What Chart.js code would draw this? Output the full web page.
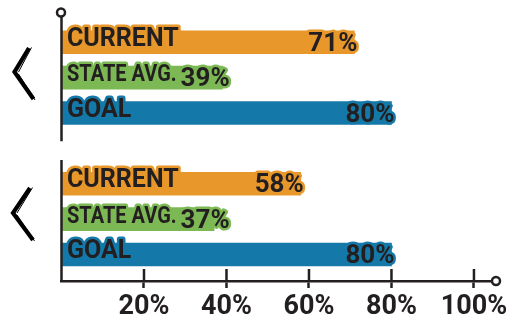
<!DOCTYPE html>
<html><head><meta charset="utf-8">
<script src="https://cdn.jsdelivr.net/npm/chart.js@4"></script>
<style>html,body{margin:0;padding:0;background:#fff;}#wrap{width:512px;height:319px;}</style>
</head><body><div id="wrap"><canvas id="c" width="512" height="319"></canvas></div>
<script>
// ---- data ----
const groups = ['Group 1', 'Group 2'];
const measures = ['CURRENT', 'STATE AVG.', 'GOAL'];
const currentValues = [71, 58];
const stateAvgValues = [39, 37];
const goalValues = [80, 80];
const tickValues = [20, 40, 60, 80, 100];

// ---- styles ----
const DARK = '#231f20';
const barColors = ['#E8972A', '#7CB955', '#1479A8'];
const labelFonts = [
  {size: 25, squeeze: 1.0},
  {size: 23, squeeze: 0.87},
  {size: 25, squeeze: 1.0}
];

const seriesValues = [currentValues, stateAvgValues, goalValues];
const points = [];
groups.forEach((g, gi) => {
  measures.forEach((m, mi) => {
    points.push({x: seriesValues[mi][gi], y: gi * (measures.length + 1) + mi, mi: mi});
  });
});

function glowText(ctx, text, x, y, color, squeeze) {
  ctx.save();
  ctx.translate(x, y);
  ctx.scale(squeeze, 1);
  ctx.lineJoin = 'round';
  ctx.lineWidth = 5;
  ctx.strokeStyle = color;
  ctx.strokeText(text, 0, 0);
  ctx.fillStyle = DARK;
  ctx.fillText(text, 0, 0);
  ctx.restore();
}

const decor = {
  id: 'decor',
  afterDraw(chart) {
    const ctx = chart.ctx;
    const xs = chart.scales.x, ys = chart.scales.y;
    const area = chart.chartArea;
    const x0 = xs.getPixelForValue(0);
    ctx.save();
    // labels on bars
    const meta = chart.getDatasetMeta(0);
    meta.data.forEach((bar, i) => {
      const p = points[i];
      const b = bar.getProps(['x', 'y', 'base', 'height'], true);
      const bottom = b.y + b.height / 2;
      const col = barColors[p.mi];
      const lf = labelFonts[p.mi];
      ctx.textAlign = 'left';
      ctx.textBaseline = 'alphabetic';
      ctx.font = 'bold ' + lf.size + 'px Roboto';
      const labelX = b.base + 5;
      const lw = ctx.measureText(measures[p.mi]).width * lf.squeeze;
      glowText(ctx, measures[p.mi], labelX, bottom - 8, col, lf.squeeze);
      ctx.font = 'bold 26px Roboto';
      const vt = p.x + '%';
      const vw = ctx.measureText(vt).width;
      const vx = Math.max(b.x + 3 - vw, labelX + lw + 4);
      glowText(ctx, vt, vx, bottom - 3, col, 1);
    });

    ctx.strokeStyle = DARK;
    ctx.lineWidth = 2.5;
    ctx.lineCap = 'butt';
    // vertical axis (broken between groups)
    const topY = 12.5;
    const gapA = ys.getPixelForValue(2.8), gapB = ys.getPixelForValue(3.33);
    ctx.beginPath();
    ctx.moveTo(x0, topY + 4);
    ctx.lineTo(x0, gapA);
    ctx.moveTo(x0, gapB);
    ctx.lineTo(x0, area.bottom + 1);
    ctx.stroke();
    // upper parts of tick marks
    ctx.beginPath();
    tickValues.forEach(v => {
      const tx = xs.getPixelForValue(v);
      ctx.moveTo(tx, area.bottom - 12);
      ctx.lineTo(tx, area.bottom);
    });
    ctx.stroke();
    // end circles
    ctx.fillStyle = '#fff';
    ctx.beginPath();
    ctx.arc(x0 - 0.5, topY, 4, 0, Math.PI * 2);
    ctx.fill(); ctx.stroke();
    ctx.beginPath();
    ctx.arc(area.right + 1, area.bottom, 4, 0, Math.PI * 2);
    ctx.fill(); ctx.stroke();

    // chevrons (brush-like)
    const chevrons = [
      {tx: 29, ty: 48, mx: 14.5, my: 72, bx: 33.5, by: 99},
      {tx: 30, ty: 188, mx: 13, my: 213, bx: 33, by: 240}
    ];
    ctx.strokeStyle = '#000';
    ctx.fillStyle = '#000';
    ctx.lineJoin = 'miter';
    chevrons.forEach(c => {
      ctx.lineWidth = 4.2;
      ctx.beginPath();
      ctx.moveTo(c.tx, c.ty);
      ctx.lineTo(c.mx, c.my);
      ctx.lineTo(c.bx, c.by);
      ctx.stroke();
      ctx.lineWidth = 1;
      ctx.beginPath();
      ctx.moveTo(c.tx + 2.5, c.ty - 0.5);
      ctx.lineTo(c.mx + 4, c.my);
      ctx.moveTo(c.mx + 4, c.my + 2);
      ctx.lineTo(c.bx + 1.5, c.by + 1);
      ctx.stroke();
    });
    ctx.restore();
  }
};

new Chart(document.getElementById('c').getContext('2d'), {
  type: 'bar',
  data: {
    datasets: [{
      data: points,
      backgroundColor: c => barColors[c.raw ? c.raw.mi : 0],
      borderWidth: 0,
      barThickness: 23
    }]
  },
  options: {
    indexAxis: 'y',
    responsive: false,
    animation: false,
    layout: {padding: {left: 61.5, right: 17, top: 24.6, bottom: 0}},
    plugins: {legend: {display: false}, tooltip: {enabled: false}},
    scales: {
      y: {type: 'linear', reverse: true, offset: false, min: -0.5, max: 6.75, display: false},
      x: {
        type: 'linear', min: 0, max: 105.1,
        afterFit: s => { s.height = 38; },
        afterBuildTicks: s => { s.ticks = [0].concat(tickValues).map(v => ({value: v})); },
        border: {display: true, color: DARK, width: 2.5},
        grid: {
          drawOnChartArea: false, drawTicks: true, tickLength: 7, tickWidth: 2.5,
          tickColor: c => (c.tick && c.tick.value === 0) ? 'rgba(0,0,0,0)' : DARK
        },
        ticks: {
          padding: 3, color: DARK,
          font: {family: 'Roboto', weight: 'bold', size: 27},
          callback: v => v === 0 ? '' : v + '%'
        }
      }
    }
  },
  plugins: [decor]
});
</script>
</body></html>
